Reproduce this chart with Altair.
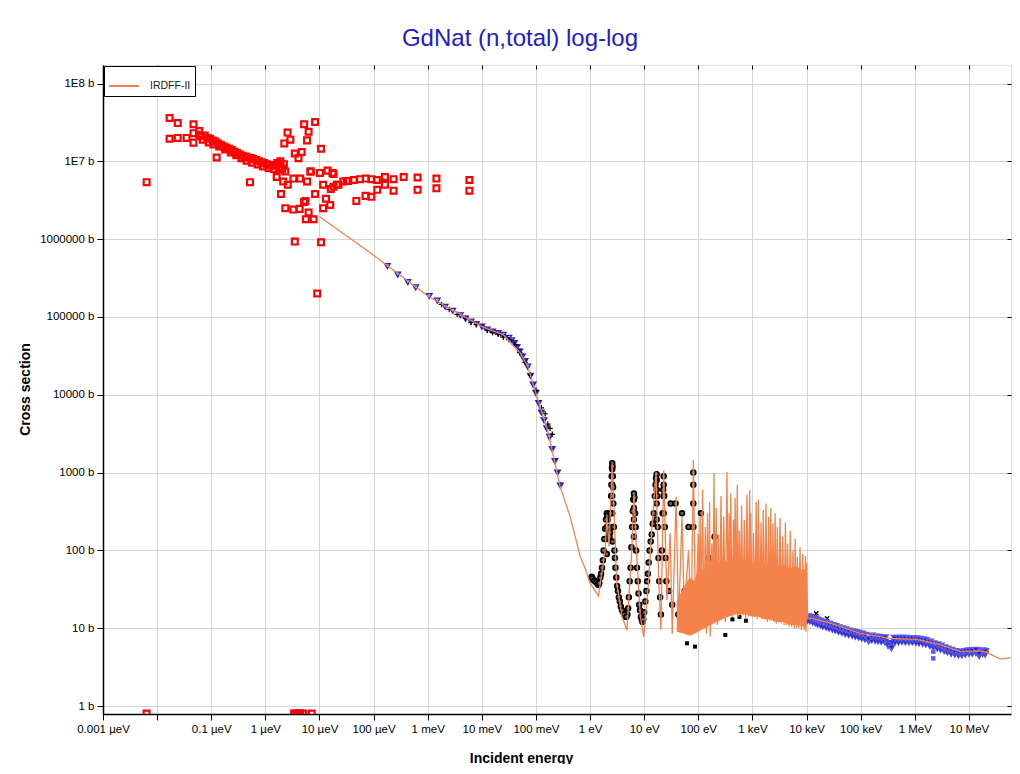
import altair as alt
import pandas as pd

# ---------------- data (energy in eV, cross section in barns) ----------------
irdff_E = [1e-5, 1e-4, 1e-3, 1e-2, 0.025, 0.051, 0.071, 0.1, 0.17, 0.28, 0.43, 0.66, 0.81, 1.0,
           1.43, 1.9, 2.04, 2.24, 2.57, 3.1, 3.9, 4.8, 5.9, 6.46, 7.2, 8.5, 9.8, 12, 13.8, 16.6,
           18.6, 20.4, 22.9, 26.3, 30.2, 33, 39, 43, 50, 55, 66, 74, 81, 89,
           100, 104, 108, 113, 120, 127, 135, 141, 148, 155, 162, 166, 178, 186, 195, 204, 214,
           224, 234, 248, 263, 278, 295, 316, 339, 355, 372, 385, 398, 422, 447, 462, 479, 501,
           525, 550, 575, 603, 631, 668, 708, 750, 794, 841, 891, 912, 933, 990, 1047, 1109,
           1175, 1230, 1288, 1365, 1445, 1514, 1585, 1679, 1778, 1884, 1995, 2089, 2188, 2291,
           2399, 2512, 2630, 2754, 2884, 3055, 3236, 3428, 3631, 3846, 4074, 4266, 4467, 4732,
           5012, 5309, 5623, 5888, 6166, 6457, 6761, 7161, 7586, 8035, 8511, 9016, 9550, 9772,
           10000, 10500,
           12000, 27500, 98000, 355000, 1.1e6, 3e6, 6.9e6, 1.4e7, 2e7, 3.8e7, 5.9e7]
irdff_xs = [1.95e6, 6.2e5, 1.86e5, 7.5e4, 5.9e4, 3.47e4, 2.29e4, 1.05e4, 3.2e3, 660, 270, 83, 59, 38,
            26, 100, 270, 112, 1320, 38, 14, 9.5, 100, 540, 100, 14, 7.8, 38, 182, 1020,
            38, 9.5, 1070, 23, 166, 8.5, 490, 11.5, 270, 17, 100, 10.5, 1450, 11.5,
            166, 12, 270, 16, 600, 10, 200, 8.5, 300, 12, 420, 7.8, 123, 14, 980, 13, 350,
            11, 160, 15, 500, 14, 270, 12, 1020, 16, 300, 17, 540, 14, 250, 15, 470, 16,
            700, 14, 180, 17, 380, 15, 245, 13, 520, 14, 600, 16, 300, 15, 166, 14,
            420, 13, 450, 14, 230, 13, 330, 13, 400, 12, 270, 12.5, 350, 12.5,
            224, 12, 300, 11.5, 200, 12, 260, 11.5, 151, 11, 230, 11, 123, 10.5,
            180, 10.5, 100, 10, 140, 10, 83, 10, 110, 9.5, 90, 9.5, 85, 9,
            70, 13.5,
            13.5, 11.6, 8.6, 7.4, 7.2, 6.1, 5.0, 5.1, 5.0, 4.0, 4.2]

# densely packed (unresolved at this scale) part of the evaluation: lower / upper envelope
band_E = [40, 55, 70, 85, 100, 130, 170, 220, 280, 360, 460, 600, 780, 1000, 1300, 1700, 2200,
          2900, 3800, 5000, 6500, 8500, 10000]
band_lo = [9, 8.5, 8, 8.5, 9, 10, 11, 12, 13, 14, 15, 15, 15, 14, 14, 13, 13, 12, 12, 11, 11,
           10.5, 10.5]
band_hi = [22, 35, 45, 40, 60, 55, 75, 65, 80, 70, 82, 72, 78, 68, 75, 65, 70, 62, 66, 58, 62,
           55, 60]

red_E = [6.4e-9, 1.7e-8, 2.4e-8, 1.7e-8, 2.4e-8, 3.5e-8, 4.7e-8, 4.7e-8, 4.7e-8, 6.0e-8, 1.26e-7, 5.2e-7,
         6.0e-8, 6.6e-8, 7.6e-8, 8.5e-8, 9.5e-8, 1.07e-7, 1.2e-7, 1.35e-7, 1.51e-7, 1.7e-7, 1.9e-7,
         2.14e-7, 2.4e-7, 2.7e-7, 3.0e-7, 3.4e-7, 3.8e-7, 4.3e-7, 4.8e-7, 5.4e-7, 6.0e-7, 6.8e-7,
         7.6e-7, 8.5e-7, 9.5e-7, 1.07e-6, 1.2e-6, 1.35e-6, 1.51e-6, 1.66e-6, 1.78e-6, 1.9e-6, 2.04e-6,
         2.2e-6, 2.34e-6,
         7.0e-8, 9.0e-8, 1.1e-7, 1.4e-7, 1.8e-7, 2.3e-7, 2.9e-7, 3.6e-7, 4.5e-7, 5.7e-7, 7.2e-7,
         9.0e-7, 1.15e-6, 1.45e-6,
         2.57e-6, 2.9e-6, 2.24e-6, 5.2e-6, 6.3e-6, 8.3e-6, 5.9e-6, 1.07e-5, 3.5e-6, 4.7e-6, 4.1e-6,
         1.62e-6, 1.95e-6, 2.34e-6, 3.3e-6, 4.3e-6, 5.2e-6, 6.3e-6, 5.6e-6, 7.8e-6, 8.3e-6, 1.17e-5,
         1.32e-5, 1.58e-5, 3.5e-6, 1.07e-5, 9.1e-6, 6.8e-6, 1.02e-5, 1.41e-5, 1.82e-5, 1.82e-5,
         2.24e-5, 3.2e-5, 2.75e-5, 3.4e-5, 4.3e-5, 5.6e-5, 7.2e-5, 9.1e-5, 1.15e-4, 1.62e-4, 2.34e-4,
         3.6e-4, 6.5e-4, 1.45e-3, 5.9e-3, 1.17e-4, 1.62e-4, 2.34e-4, 6.5e-4, 1.45e-3, 5.9e-3,
         4.8e-5, 7.1e-5, 9.1e-5, 2.1e-5, 1.62e-5, 1.17e-5, 5.5e-6, 5.9e-6, 4.4e-6, 3.3e-6, 2.6e-6,
         2.14e-6, 6.9e-6, 1.74e-5,
         6.4e-9, 3.4e-6, 3.7e-6, 4.0e-6, 4.4e-6, 5.0e-6, 7.2e-6]
red_xs = [5.4e6, 3.6e7, 3.1e7, 1.95e7, 2.0e7, 2.0e7, 3.0e7, 2.3e7, 1.74e7, 2.45e7, 1.12e7, 5.4e6,
          2.2e7, 2.1e7, 2.15e7, 2.0e7, 1.95e7, 1.85e7, 1.8e7, 1.7e7, 1.62e7, 1.55e7, 1.5e7,
          1.45e7, 1.4e7, 1.33e7, 1.28e7, 1.22e7, 1.18e7, 1.15e7, 1.12e7, 1.1e7, 1.07e7, 1.04e7,
          1.0e7, 9.7e6, 9.5e6, 9.2e6, 9.0e6, 8.8e6, 9.0e6, 9.5e6, 8.4e6, 1.0e7, 8.0e6,
          9.2e6, 7.4e6,
          1.9e7, 1.75e7, 1.65e7, 1.55e7, 1.42e7, 1.3e7, 1.2e7, 1.1e7, 1.02e7, 9.6e6, 9.1e6,
          8.6e6, 8.2e6, 8.0e6,
          2.34e7, 1.9e7, 1.7e7, 3.0e7, 2.4e7, 3.2e7, 1.86e7, 1.45e7, 1.26e7, 1.32e7, 1.1e7,
          6.3e6, 3.8e6, 2.5e6, 2.4e6, 2.45e6, 3.0e6, 2.2e6, 1.8e6, 1.8e6, 3.8e6, 2.5e6,
          3.3e6, 2.75e6, 9.3e5, 9.1e5, 2.0e5, 7.4e6, 7.1e6, 7.6e6, 6.9e6, 4.7e6,
          5.0e6, 5.6e6, 5.5e6, 5.6e6, 5.75e6, 5.9e6, 6.0e6, 5.9e6, 5.75e6, 6.3e6, 5.9e6,
          6.3e6, 6.2e6, 6.0e6, 5.75e6, 4.3e6, 5.0e6, 4.2e6, 4.3e6, 4.5e6, 4.2e6,
          3.1e6, 3.6e6, 3.5e6, 5.0e6, 4.4e6, 5.0e6, 3.1e6, 5.5e6, 6.0e6, 6.0e6, 5.0e6,
          5.5e6, 7.4e6, 7.1e6,
          0.8, 0.8, 0.8, 0.8, 0.8, 0.8, 0.8]

tri_E = [1.8e-4, 2.8e-4, 4.3e-4, 6.0e-4, 1.07e-3, 1.5e-3, 2.1e-3, 2.9e-3, 4.0e-3, 5.0e-3, 6.3e-3,
         7.9e-3, 0.01, 0.0126, 0.0158, 0.02, 0.025, 0.0316, 0.0355, 0.04, 0.0447, 0.05, 0.0562,
         0.063, 0.0708, 0.0794, 0.089, 0.1, 0.112, 0.126, 0.141, 0.158, 0.178, 0.2, 0.224, 0.251, 0.282]
tri_xs = [4.5e5, 3.5e5, 2.8e5, 2.4e5, 1.86e5, 1.62e5, 1.35e5, 1.2e5, 1.05e5, 9.5e4, 8.7e4,
          8.1e4, 7.5e4, 6.9e4, 6.5e4, 6.2e4, 5.9e4, 5.4e4, 5.0e4, 4.6e4, 4.1e4, 3.6e4, 3.1e4,
          2.7e4, 2.3e4, 1.75e4, 1.35e4, 1.05e4, 7.8e3, 5.9e3, 4.7e3, 3.7e3, 2.9e3, 2.0e3, 1.4e3, 1.0e3, 680]

dense_E = [0.01, 0.0112, 0.0126, 0.0141, 0.0158, 0.0178, 0.02, 0.0224, 0.0251, 0.0282, 0.0316,
           0.0355, 0.0398, 0.0447, 0.0501, 0.0562, 0.0631, 0.0708, 0.0794, 0.0891, 0.1, 0.112,
           0.126, 0.141, 0.158, 0.178, 0.2, 0.224, 0.251, 0.282]
dense_xs = [7.5e4, 7.1e4, 6.8e4, 6.6e4, 6.4e4, 6.2e4, 6.0e4, 5.8e4, 5.7e4, 5.5e4, 5.2e4,
            4.9e4, 4.6e4, 4.2e4, 3.7e4, 3.2e4, 2.7e4, 2.2e4, 1.7e4, 1.35e4, 1.05e4, 8.0e3,
            6.0e3, 4.6e3, 3.6e3, 2.7e3, 2.0e3, 1.45e3, 1.0e3, 700]

plus_E = [1.8e-3, 2.5e-3, 3.5e-3, 5.0e-3, 6.3e-3, 7.9e-3, 0.0126, 0.0158, 0.02, 0.025, 0.0316,
          0.04, 0.05, 0.063, 0.079, 0.1, 0.126, 0.148, 0.166, 0.182, 0.2]
plus_xs = [1.45e5, 1.25e5, 1.08e5, 9.6e4, 8.5e4, 8.0e4, 6.7e4, 6.3e4, 6.0e4, 5.5e4, 5.1e4,
           4.4e4, 3.5e4, 2.6e4, 1.8e4, 1.15e4, 6.8e3, 5.7e3, 4.2e3, 3.7e3, 3.1e3]

circ_E = [1.07, 1.15, 1.24, 1.35, 1.43, 1.55, 1.66, 1.78, 1.9, 2.04, 2.14, 2.24, 2.34, 2.45, 2.51,
          2.57, 2.63, 2.69, 2.82, 2.95, 3.16, 3.4, 3.7, 4.1, 4.5, 4.9, 5.2, 5.6, 6.0, 6.3, 6.46,
          6.8, 7.1, 7.6, 8.1, 8.7, 9.3, 10, 11, 11.7, 12.6, 13.8, 15.1, 16.2, 17, 17.8, 19,
          20.4, 21.9, 22.9, 24, 25.7, 28.8, 30.9, 33, 38, 42.7, 50, 56, 66, 81, 91, 112, 158,
          200, 316,
          2.57, 2.57, 2.57, 2.57, 2.6, 2.6, 6.46, 6.46, 6.46, 6.46, 17, 17, 17, 17, 22.9, 22.9,
          22.9, 2.04, 2.04, 2.04, 81, 81, 81,
          1.1, 1.2, 1.3, 1.39, 1.48, 1.6, 1.72, 1.84, 1.97, 2.09, 2.19, 2.29, 2.4, 2.48, 2.54,
          2.6, 2.66, 2.75, 2.88, 3.05, 3.28, 3.55, 3.9, 4.3, 4.7, 5.05, 5.4, 5.8, 6.15, 6.6,
          6.95, 7.35, 7.85, 8.4, 9.0, 9.6, 10.5, 11.3, 12.1, 13.2, 14.4, 15.7, 16.6, 17.4, 18.4,
          19.7, 21.2, 22.4, 23.4, 24.8]
circ_xs = [46, 42, 40, 38, 36, 45, 60, 100, 190, 300, 250, 160, 170, 500, 900,
           1320, 900, 400, 100, 60, 35, 25, 19, 16, 14, 15, 25, 60, 200, 450, 540,
           300, 100, 40, 20, 14, 12, 16, 30, 50, 100, 160, 300, 700, 950, 200, 40,
           15, 300, 900, 200, 40, 30, 400, 20, 400, 15, 300, 30, 200, 1000, 20, 300, 80,
           150, 60,
           1100, 700, 500, 300, 200, 130, 450, 350, 250, 150, 800, 600, 400, 250, 700, 500,
           300, 200, 140, 90, 700, 400, 200,
           44, 41, 39, 37, 38, 50, 75, 140, 250, 280, 200, 150, 300, 700, 1150,
           1200, 650, 200, 80, 45, 30, 22, 17, 15, 14, 18, 40, 110, 320, 480,
           200, 60, 28, 17, 13, 13, 22, 40, 70, 130, 220, 500, 850, 500, 80,
           25, 100, 600, 500, 80]

dots_E = [263, 339, 363, 331, 661, 575, 661, 3236]
dots_xs = [62, 65, 38, 28, 44, 38, 23, 21]

sq_E = [61.7, 87, 316, 427, 575, 760]
sq_xs = [6.4, 5.8, 8.2, 13, 14, 12.5]

xm_E = [15100, 24000]
xm_xs = [15.5, 13.4]

blue_E = [1.05e4, 1.15e4, 1.3e4, 1.45e4, 1.6e4, 1.8e4, 2.0e4, 2.3e4, 2.6e4, 3.0e4, 3.4e4, 3.9e4,
          4.5e4, 5.2e4, 6.0e4, 7.0e4, 8.0e4, 9.2e4, 1.05e5, 1.2e5, 1.4e5, 1.6e5, 1.85e5, 2.1e5,
          2.4e5, 2.8e5, 3.2e5, 3.7e5, 4.3e5, 5.0e5, 5.8e5, 6.7e5, 7.8e5, 9.0e5, 1.05e6, 1.2e6,
          1.4e6, 1.6e6, 1.9e6, 2.2e6, 2.6e6, 3.0e6, 3.5e6, 4.0e6, 4.7e6, 5.5e6, 6.4e6, 7.4e6,
          8.6e6, 1.0e7, 1.15e7, 1.35e7, 1.55e7, 1.8e7, 2.0e7]
blue_hi = [14, 13.8, 13.3, 13, 12.6, 12.2, 11.9, 11.5, 11.2, 10.8, 10.5, 10.1,
           9.8, 9.5, 9.2, 9.0, 8.8, 8.6, 8.4, 8.1, 7.2, 7.9, 7.7, 7.6,
           7.5, 7.5, 6.0, 5.6, 7.4, 7.4, 7.4, 7.4, 7.3, 7.3, 7.3, 7.2,
           7.1, 6.9, 6.6, 6.3, 6.1, 5.9, 5.6, 5.4, 5.2, 5.0, 4.9, 4.9,
           5.0, 5.1, 5.1, 5.2, 4.7, 5.1, 5.0]
blue_lo = [12.5, 12.3, 11.9, 11.6, 11.2, 10.9, 10.5, 10.2, 9.9, 9.6, 9.3, 9.0,
           8.7, 8.4, 8.2, 8.0, 7.8, 7.6, 7.4, 7.2, 6.8, 7.0, 6.9, 6.8,
           6.7, 6.6, 6.3, 6.4, 6.6, 6.6, 6.7, 6.6, 6.6, 6.6, 6.5, 6.4,
           6.3, 6.2, 5.9, 5.7, 5.5, 5.3, 5.1, 4.9, 4.7, 4.6, 4.5, 4.5,
           4.6, 4.7, 4.7, 4.8, 4.4, 4.7, 4.6]

light_E = [2.2e6, 2.2e6]
light_xs = [5.0, 4.1]

x_ticks = [1e-9, 1e-8, 1e-7, 1e-6, 1e-5, 1e-4, 1e-3, 1e-2, 1e-1, 1, 10, 100, 1e3, 1e4, 1e5, 1e6, 1e7]
x_labels = ['0.001 µeV', '', '0.1 µeV', '1 µeV', '10 µeV', '100 µeV', '1 meV', '10 meV',
            '100 meV', '1 eV', '10 eV', '100 eV', '1 keV', '10 keV', '100 keV', '1 MeV', '10 MeV']
y_ticks = [1, 10, 100, 1000, 1e4, 1e5, 1e6, 1e7, 1e8]
y_labels = ['1 b', '10 b', '100 b', '1000 b', '10000 b', '100000 b', '1000000 b', '1E7 b', '1E8 b']

# ---------------- chart ----------------
FONT = 'Liberation Sans'
ORANGE = '#f4824a'
x_expr = '[' + ','.join("'%s'" % s for s in x_labels) + '][round(log(datum.value)/LN10)+9]'
y_expr = '[' + ','.join("'%s'" % s for s in y_labels) + '][round(log(datum.value)/LN10)]'

xscale = alt.Scale(type='log', domain=[1e-9, 6e7], nice=False)
yscale = alt.Scale(type='log', domain=[0.79, 1.73e8], nice=False)

common_axis = dict(labelFont=FONT, labelFontSize=11.5, labelColor='#000000', titleFont=FONT,
                   titleFontSize=14, titleFontWeight='bold', titleColor='#000000',
                   domainColor='#000000', domainWidth=1.5, tickColor='#000000', tickSize=6,
                   gridColor='#d4d4d4', gridWidth=1, labelPadding=3, labelFlush=False,
                   labelOverlap=False, grid=True, titleBaseline='middle', titleAlign='center')
xaxis = alt.Axis(values=x_ticks, labelExpr=x_expr, title='Incident energy',
                 titleX=418, titleY=44, **common_axis)
yaxis = alt.Axis(values=y_ticks, labelExpr=y_expr, title='Cross section',
                 titleX=-78, titleY=324, **common_axis)


def df(E, xs, name=None):
    d = pd.DataFrame({'E': E, 'xs': xs})
    if name:
        d['name'] = name
    return d


def enc(ch, field='xs:Q'):
    return ch.encode(x=alt.X('E:Q', scale=xscale, axis=xaxis),
                     y=alt.Y(field, scale=yscale, axis=yaxis))


red = enc(alt.Chart(df(red_E, red_xs)).mark_point(
    shape='square', filled=False, color='#ff0000', strokeWidth=2.2, size=34, opacity=1, clip=True))
circ = enc(alt.Chart(df(circ_E, circ_xs)).mark_point(
    shape='circle', filled=True, fill='#666666', stroke='#000000', strokeWidth=1.6, size=24,
    opacity=1, clip=True))
dots = enc(alt.Chart(df(dots_E, dots_xs)).mark_point(
    shape='circle', filled=True, color='#000000', size=8, opacity=1, clip=True))
sq = enc(alt.Chart(df(sq_E, sq_xs)).mark_point(
    shape='square', filled=True, color='#000000', size=16, opacity=1, clip=True))
tri = enc(alt.Chart(df(tri_E, tri_xs)).mark_point(
    shape='triangle-down', filled=True, fill='#b4b4f4', stroke='#2323c8', strokeWidth=1.3, size=32,
    opacity=1, clip=True))
dense = enc(alt.Chart(df(dense_E, dense_xs)).mark_point(
    shape='triangle-down', filled=True, color='#1818b0', size=22, opacity=1, clip=True))
plus = enc(alt.Chart(df(plus_E, plus_xs)).mark_point(
    shape='M-1,0L1,0M0,-1L0,1', filled=False, color='#000000', strokeWidth=1.2, size=30,
    opacity=1, clip=True))
xm = enc(alt.Chart(df(xm_E, xm_xs)).mark_point(
    shape='M-1,-1L1,1M-1,1L1,-1', filled=False, color='#000000', strokeWidth=1.2, size=18,
    opacity=1, clip=True))
blue_hi_l = enc(alt.Chart(df(blue_E, blue_hi)).mark_point(
    shape='triangle-down', filled=True, fill='#1818b0', stroke='#5a5ae8', strokeWidth=1.5, size=45,
    opacity=1, clip=True))
blue_lo_l = enc(alt.Chart(df(blue_E, blue_lo)).mark_point(
    shape='triangle-down', filled=True, fill='#0c0c9c', stroke='#4848dc', strokeWidth=1.2, size=40,
    opacity=1, clip=True))
light = enc(alt.Chart(df(light_E, light_xs)).mark_point(
    shape='square', filled=True, color='#6060ee', size=20, opacity=1, clip=True))

band = alt.Chart(pd.DataFrame({'E': band_E, 'lo': band_lo, 'hi': band_hi})).mark_area(
    color=ORANGE, opacity=1, clip=True).encode(
    x=alt.X('E:Q', scale=xscale, axis=xaxis),
    y=alt.Y('lo:Q', scale=yscale, axis=yaxis),
    y2='hi:Q')

line = alt.Chart(df(irdff_E, irdff_xs, 'IRDFF-II')).mark_line(strokeWidth=1.3, clip=True).encode(
    x=alt.X('E:Q', scale=xscale, axis=xaxis),
    y=alt.Y('xs:Q', scale=yscale, axis=yaxis),
    color=alt.Color('name:N', scale=alt.Scale(domain=['IRDFF-II'], range=[ORANGE]),
                    legend=alt.Legend(title=None, orient='top-left', offset=1, padding=4,
                                      strokeColor='#000000', fillColor='#ffffff',
                                      symbolType='stroke', symbolSize=900, symbolStrokeWidth=2,
                                      labelFontSize=10.5, labelFont=FONT, labelColor='#222222',
                                      labelOffset=10)),
)

main = alt.layer(red, circ, dots, sq, tri, dense, plus, xm, blue_lo_l, blue_hi_l, light, band, line)

frame_ticks = alt.Chart(df([1.0], [1.0])).mark_point(opacity=0).encode(
    x=alt.X('E:Q', scale=xscale,
            axis=alt.Axis(orient='top', values=x_ticks, labels=False, ticks=True, tickSize=4,
                          tickColor='#000000', offset=-4, domain=False, grid=False, title=None)),
    y=alt.Y('xs:Q', scale=yscale,
            axis=alt.Axis(orient='right', values=y_ticks, labels=False, ticks=True, tickSize=4,
                          tickColor='#000000', offset=-4, domain=False, grid=False, title=None)),
)

chart = alt.layer(main, frame_ticks).resolve_axis(x='independent', y='independent').properties(
    width=908, height=649,
    autosize=alt.AutoSizeParams(type='none'),
    padding={'left': 95, 'top': 57, 'right': 1, 'bottom': 50},
    title=alt.TitleParams('GdNat (n,total) log-log', fontSize=24, font=FONT, fontWeight='normal',
                          color='#1c1ccc', anchor='middle', offset=14, dx=-37),
).configure_view(stroke='#000000', strokeWidth=1.5).configure(background='#ffffff')

chart.save('out.html', embed_options={'renderer': 'svg', 'actions': False})
